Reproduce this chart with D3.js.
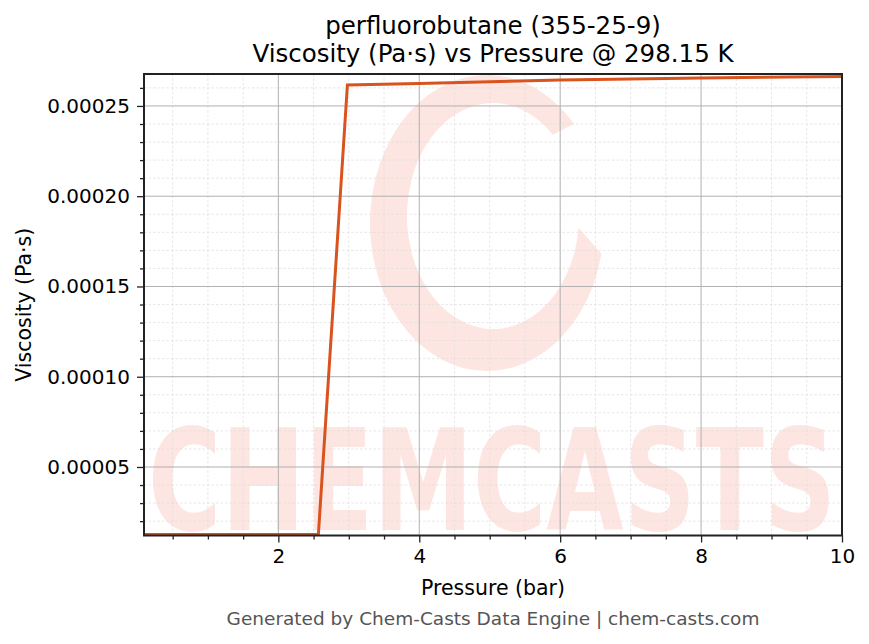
<!DOCTYPE html>
<html>
<head>
<meta charset="utf-8">
<script src="https://cdn.jsdelivr.net/npm/d3@7"></script>
<style>
  body { margin: 0; background: #fff; }
  svg { display: block; font-family: "DejaVu Sans", sans-serif; }
</style>
</head>
<body>
<div id="chart"></div>
<script>
// data
const pressure = [0.093, 2.568, 2.98, 4, 6, 8, 10];
const viscosity = [0.0000126, 0.0000126, 0.0002616, 0.0002625, 0.0002644, 0.0002655, 0.0002663];
const xTicks = [2, 4, 6, 8, 10];
const yTicks = [0.00005, 0.0001, 0.00015, 0.0002, 0.00025];

const W = 869, H = 644;
const margin = {top: 74, right: 27, bottom: 108.5, left: 144};
const width = W - margin.left - margin.right,
      height = H - margin.top - margin.bottom;

const svg = d3.select("#chart").append("svg")
    .attr("width", W).attr("height", H);

const x = d3.scaleLinear().domain([0.093, 10]).range([0, width]);
const y = d3.scaleLinear().domain([0.00001205, 0.0002677]).range([height, 0]);

const g = svg.append("g").attr("transform", `translate(${margin.left},${margin.top})`);

g.append("defs").append("clipPath").attr("id", "clip")
  .append("rect").attr("width", width).attr("height", height);

// watermark
const wm = g.append("g");
const cx = 487 - margin.left, cy = 223 - margin.top;
const pt = (a, ox, oy, rx, ry) => [ox + rx * Math.cos(a * Math.PI / 180), oy + ry * Math.sin(a * Math.PI / 180)];
const o1 = pt(-42, cx, cy, 117, 148), o2 = pt(12, cx, cy, 117, 148);
const i1 = pt(-46, cx + 6, cy - 7, 86, 113), i2 = pt(6, cx + 6, cy - 7, 86, 113);
wm.append("path")
  .attr("d", `M${o1}A117,148 0 1 0 ${o2}L${i2}A86,113 0 1 1 ${i1}Z`)
  .attr("fill", "#fde6e2");
wm.append("text")
  .attr("x", 4).attr("y", 530 - margin.top)
  .attr("textLength", 688).attr("lengthAdjust", "spacingAndGlyphs")
  .attr("font-size", 141).attr("font-weight", "bold")
  .attr("fill", "#fde6e2")
  .text("CHEMCASTS");

// grid
const xMinor = d3.range(0.5, 10, 0.5).filter(v => v > 0.093 && !xTicks.includes(v));
const yMinor = d3.range(2, 27).map(v => v * 0.00001).filter(v => !yTicks.some(t => Math.abs(t - v) < 1e-9));

g.append("g").selectAll("line").data(xMinor).join("line")
  .attr("x1", d => x(d)).attr("x2", d => x(d)).attr("y1", 0).attr("y2", height)
  .attr("stroke", "#dcdcdc").attr("stroke-width", 0.7).attr("stroke-dasharray", "2.5,2");
g.append("g").selectAll("line").data(yMinor).join("line")
  .attr("y1", d => y(d)).attr("y2", d => y(d)).attr("x1", 0).attr("x2", width)
  .attr("stroke", "#dcdcdc").attr("stroke-width", 0.7).attr("stroke-dasharray", "2.5,2");
g.append("g").selectAll("line").data(xTicks).join("line")
  .attr("x1", d => x(d)).attr("x2", d => x(d)).attr("y1", 0).attr("y2", height)
  .attr("stroke", "#b0b0b0").attr("stroke-width", 1);
g.append("g").selectAll("line").data(yTicks).join("line")
  .attr("y1", d => y(d)).attr("y2", d => y(d)).attr("x1", 0).attr("x2", width)
  .attr("stroke", "#b0b0b0").attr("stroke-width", 1);

// line
const line = d3.line().x((d, i) => x(pressure[i])).y(d => y(d));
g.append("path").datum(viscosity)
  .attr("clip-path", "url(#clip)")
  .attr("d", line)
  .attr("fill", "none").attr("stroke", "#d9531e").attr("stroke-width", 3)
  .attr("stroke-linejoin", "miter");

// axes
g.append("g").attr("transform", `translate(0,${height})`)
  .call(d3.axisBottom(x).tickValues(xTicks).tickFormat(d3.format("d")).tickSizeOuter(0).tickSize(7).tickPadding(6));
g.append("g").attr("class", "minor").attr("transform", `translate(0,${height})`)
  .call(d3.axisBottom(x).tickValues(xMinor).tickFormat("").tickSizeOuter(0).tickSize(4));
g.append("g")
  .call(d3.axisLeft(y).tickValues(yTicks).tickFormat(d3.format(".5f")).tickSizeOuter(0).tickSize(7).tickPadding(7));
g.append("g").attr("class", "minor")
  .call(d3.axisLeft(y).tickValues(yMinor).tickFormat("").tickSizeOuter(0).tickSize(4));

g.selectAll(".domain").remove();
g.selectAll(".minor .tick text").remove();
g.selectAll(".tick line").attr("stroke", "#222").attr("stroke-width", 1.3);
g.selectAll(".tick text").attr("font-size", 20).attr("fill", "#000")
  .attr("font-family", "DejaVu Sans");

// frame
g.append("rect").attr("width", width).attr("height", height)
  .attr("fill", "none").attr("stroke", "#222").attr("stroke-width", 2);

// text
svg.append("text").attr("x", margin.left + width / 2).attr("y", 34)
  .attr("text-anchor", "middle").attr("font-size", 24.5)
  .text("perfluorobutane (355-25-9)");
svg.append("text").attr("x", margin.left + width / 2).attr("y", 62)
  .attr("text-anchor", "middle").attr("font-size", 24.5)
  .text("Viscosity (Pa·s) vs Pressure @ 298.15 K");
svg.append("text").attr("x", margin.left + width / 2).attr("y", 595)
  .attr("text-anchor", "middle").attr("font-size", 20.5)
  .text("Pressure (bar)");
svg.append("text").attr("transform", `translate(31,${margin.top + height / 2}) rotate(-90)`)
  .attr("text-anchor", "middle").attr("font-size", 20.5)
  .text("Viscosity (Pa·s)");
svg.append("text").attr("x", 493).attr("y", 625)
  .attr("text-anchor", "middle").attr("font-size", 18.5).attr("fill", "#555")
  .text("Generated by Chem-Casts Data Engine | chem-casts.com");
</script>
</body>
</html>
